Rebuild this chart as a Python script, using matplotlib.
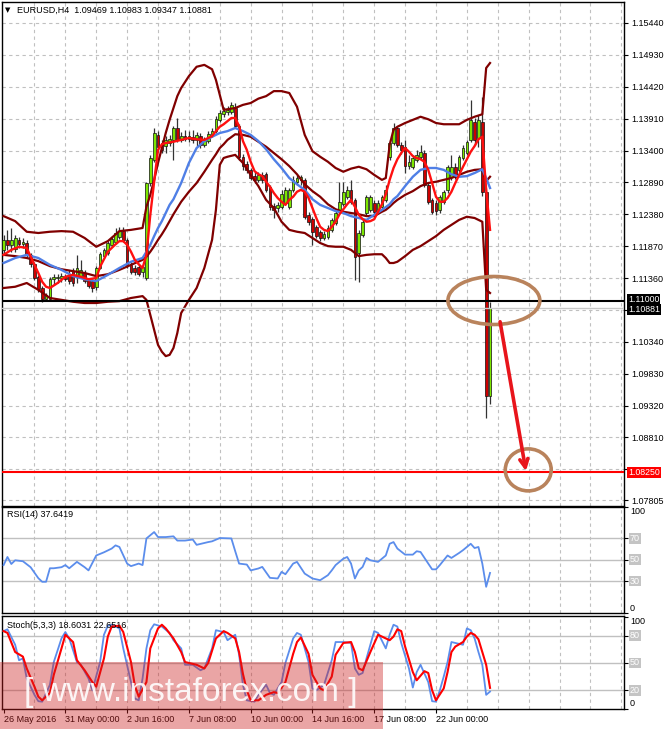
import matplotlib
matplotlib.use("Agg")
import matplotlib.pyplot as plt
import matplotlib.transforms as mtrans
from matplotlib.patches import Ellipse, Rectangle

plt.rcParams['font.family'] = ['Liberation Sans', 'DejaVu Sans']
plt.rcParams['font.size'] = 6.5

# ---------------- data (EURUSD H4) ----------------
bar_open = [1.1181, 1.1197, 1.1189, 1.1182, 1.1197, 1.1190, 1.1192, 1.1173, 1.1158, 1.1138,
            1.1120, 1.1102, 1.1102, 1.1134, 1.1136, 1.1136, 1.1138, 1.1141, 1.1147, 1.1139,
            1.1139, 1.1144, 1.1133, 1.1131, 1.1122, 1.1152, 1.1171, 1.1176, 1.1189, 1.1194,
            1.1202, 1.1211, 1.1197, 1.1157, 1.1152, 1.1154, 1.1146, 1.1136, 1.1288, 1.1325,
            1.1365, 1.1352, 1.1347, 1.1352, 1.1357, 1.1376, 1.1357, 1.1363, 1.1358, 1.1362,
            1.1357, 1.1363, 1.1349, 1.1355, 1.1366, 1.1371, 1.1389, 1.1398, 1.1402, 1.1402,
            1.1408, 1.1379, 1.1330, 1.1318, 1.1309, 1.1299, 1.1293, 1.1301, 1.1302, 1.1282,
            1.1251, 1.1248, 1.1250, 1.1256, 1.1250, 1.1277, 1.1290, 1.1293, 1.1293, 1.1237,
            1.1230, 1.1218, 1.1210, 1.1200, 1.1202, 1.1213, 1.1224, 1.1245, 1.1254, 1.1266,
            1.1277, 1.1261, 1.1176, 1.1205, 1.1240, 1.1245, 1.1256, 1.1245, 1.1250, 1.1261,
            1.1330, 1.1352, 1.1376, 1.1349, 1.1346, 1.1315, 1.1314, 1.1325, 1.1330, 1.1336,
            1.1285, 1.1261, 1.1256, 1.1245, 1.1258, 1.1277, 1.1298, 1.1314, 1.1309, 1.1328,
            1.1336, 1.1357, 1.1386, 1.1360, 1.1386, 1.1274, 1.09469]
bar_high = [1.1205, 1.1213, 1.1216, 1.1205, 1.1202, 1.1200, 1.1197, 1.1176, 1.1162, 1.1141,
            1.1123, 1.1112, 1.1138, 1.1142, 1.1142, 1.1144, 1.1142, 1.1149, 1.1152, 1.1173,
            1.1165, 1.1149, 1.1136, 1.1134, 1.1155, 1.1178, 1.1184, 1.1195, 1.1203, 1.1216,
            1.1218, 1.1218, 1.1200, 1.1162, 1.1157, 1.1157, 1.1157, 1.1290, 1.1333, 1.1376,
            1.1371, 1.1357, 1.1363, 1.1365, 1.1379, 1.1392, 1.1370, 1.1373, 1.1371, 1.1373,
            1.1370, 1.1368, 1.1362, 1.1371, 1.1376, 1.1395, 1.1405, 1.1410, 1.1411, 1.1418,
            1.1416, 1.1382, 1.1334, 1.1323, 1.1312, 1.1306, 1.1306, 1.1306, 1.1306, 1.1285,
            1.1256, 1.1258, 1.1277, 1.1282, 1.1280, 1.1299, 1.1301, 1.1301, 1.1296, 1.1242,
            1.1234, 1.1221, 1.1213, 1.1211, 1.1221, 1.1232, 1.1245, 1.1290, 1.1290, 1.1283,
            1.1293, 1.1264, 1.1213, 1.1229, 1.1269, 1.1269, 1.1261, 1.1261, 1.1269, 1.1285,
            1.1357, 1.1384, 1.1379, 1.1354, 1.1357, 1.1333, 1.1333, 1.1341, 1.1349, 1.1341,
            1.1288, 1.1264, 1.1261, 1.1269, 1.1277, 1.1317, 1.1333, 1.1320, 1.1333, 1.1349,
            1.1357, 1.1421, 1.1392, 1.1397, 1.1426, 1.1280, 1.10983]
bar_low = [1.1173, 1.1181, 1.1178, 1.1178, 1.1184, 1.1184, 1.1168, 1.1154, 1.1133, 1.1114,
           1.1098, 1.1099, 1.1101, 1.1125, 1.1128, 1.1130, 1.1131, 1.1126, 1.1123, 1.1128,
           1.1136, 1.1128, 1.1120, 1.1114, 1.1117, 1.1150, 1.1168, 1.1173, 1.1186, 1.1190,
           1.1198, 1.1194, 1.1152, 1.1142, 1.1141, 1.1139, 1.1138, 1.1133, 1.1283, 1.1322,
           1.1338, 1.1336, 1.1336, 1.1347, 1.1325, 1.1354, 1.1354, 1.1355, 1.1354, 1.1352,
           1.1347, 1.1344, 1.1346, 1.1352, 1.1362, 1.1368, 1.1386, 1.1394, 1.1397, 1.1398,
           1.1376, 1.1325, 1.1309, 1.1304, 1.1293, 1.1288, 1.1290, 1.1288, 1.1274, 1.1245,
           1.1232, 1.1242, 1.1246, 1.1253, 1.1246, 1.1274, 1.1285, 1.1285, 1.1230, 1.1221,
           1.1189, 1.1200, 1.1195, 1.1197, 1.1198, 1.1210, 1.1221, 1.1242, 1.1251, 1.1262,
           1.1254, 1.1133, 1.1130, 1.1202, 1.1237, 1.1242, 1.1237, 1.1242, 1.1246, 1.1258,
           1.1325, 1.1349, 1.1346, 1.1334, 1.1304, 1.1310, 1.1310, 1.1322, 1.1326, 1.1282,
           1.1254, 1.1238, 1.1237, 1.1240, 1.1254, 1.1272, 1.1293, 1.1294, 1.1306, 1.1325,
           1.1333, 1.1354, 1.1349, 1.1346, 1.1267, 1.0912, 1.09347]
bar_close = [1.1197, 1.1189, 1.1197, 1.1200, 1.1190, 1.1194, 1.1173, 1.1158, 1.1136, 1.1118,
             1.1102, 1.1109, 1.1134, 1.1138, 1.1138, 1.1139, 1.1134, 1.1131, 1.1128, 1.1152,
             1.1149, 1.1131, 1.1123, 1.1120, 1.1152, 1.1174, 1.1181, 1.1192, 1.1198, 1.1208,
             1.1211, 1.1197, 1.1155, 1.1146, 1.1146, 1.1142, 1.1154, 1.1288, 1.1328, 1.1368,
             1.1346, 1.1341, 1.1357, 1.1358, 1.1376, 1.1357, 1.1363, 1.1358, 1.1363, 1.1357,
             1.1365, 1.1349, 1.1357, 1.1366, 1.1371, 1.1390, 1.1400, 1.1403, 1.1405, 1.1413,
             1.1379, 1.1330, 1.1315, 1.1309, 1.1296, 1.1293, 1.1301, 1.1293, 1.1277, 1.1250,
             1.1245, 1.1253, 1.1270, 1.1277, 1.1277, 1.1293, 1.1296, 1.1298, 1.1234, 1.1226,
             1.1210, 1.1203, 1.1200, 1.1206, 1.1216, 1.1229, 1.1240, 1.1258, 1.1274, 1.1277,
             1.1258, 1.1170, 1.1208, 1.1226, 1.1266, 1.1266, 1.1242, 1.1256, 1.1266, 1.1277,
             1.1352, 1.1376, 1.1349, 1.1341, 1.1315, 1.1322, 1.1328, 1.1333, 1.1338, 1.1285,
             1.1258, 1.1242, 1.1243, 1.1266, 1.1274, 1.1314, 1.1314, 1.1298, 1.1330, 1.1344,
             1.1354, 1.1389, 1.1357, 1.1389, 1.1274, 1.09469, 1.10881]

# Bollinger bands (sampled)
bb_idx = [0, 3, 6, 9, 12, 15, 18, 21, 24, 27, 30, 33, 36, 37, 38, 39, 40, 41, 42, 43,
          44, 45, 46, 48, 50, 52, 54, 55, 56, 57, 58, 60, 62, 64, 66, 68, 70, 72, 74, 76,
          78, 80, 82, 84, 86, 88, 90, 92, 94, 96, 98, 99, 100, 101, 102, 104, 106, 108, 110, 112,
          114, 116, 118, 120, 122, 124, 125, 126]
bb_upper = [1.1235, 1.1227, 1.1210, 1.1208, 1.1210, 1.1211, 1.1210, 1.1200, 1.1186, 1.1195,
            1.1211, 1.1213, 1.1216, 1.1250, 1.1269, 1.1293, 1.1320, 1.1344, 1.1368, 1.1389,
            1.1408, 1.1427, 1.1440, 1.1459, 1.1474, 1.1477, 1.1470, 1.1453, 1.1429, 1.1405,
            1.1406, 1.1408, 1.1413, 1.1416, 1.1423, 1.1427, 1.1435, 1.1435, 1.1432, 1.1410,
            1.1365, 1.1339, 1.1330, 1.1322, 1.1312, 1.1306, 1.1311, 1.1314, 1.1310, 1.1301,
            1.1293, 1.1296, 1.1349, 1.1373, 1.1378, 1.1384, 1.1389, 1.1394, 1.1390, 1.1384,
            1.1382, 1.1382, 1.1382, 1.1389, 1.1394, 1.1398, 1.1472, 1.1480]
bb_middle = [1.1173, 1.1171, 1.1168, 1.1163, 1.1155, 1.1150, 1.1147, 1.1144, 1.1139, 1.1142,
             1.1149, 1.1157, 1.1165, 1.1170, 1.1178, 1.1187, 1.1197, 1.1206, 1.1216, 1.1227,
             1.1238, 1.1248, 1.1258, 1.1274, 1.1288, 1.1306, 1.1325, 1.1334, 1.1344, 1.1350,
             1.1357, 1.1366, 1.1365, 1.1362, 1.1354, 1.1346, 1.1336, 1.1326, 1.1315, 1.1302,
             1.1286, 1.1275, 1.1266, 1.1254, 1.1246, 1.1242, 1.1240, 1.1238, 1.1235, 1.1235,
             1.1242, 1.1245, 1.1250, 1.1256, 1.1261, 1.1269, 1.1275, 1.1283, 1.1288, 1.1290,
             1.1293, 1.1296, 1.1301, 1.1306, 1.1309, 1.1310, 1.1291, 1.1298]
bb_lower = [1.1120, 1.1122, 1.1128, 1.1117, 1.1104, 1.1101, 1.1098, 1.1096, 1.1096, 1.1098,
            1.1099, 1.1104, 1.1107, 1.1101, 1.1077, 1.1053, 1.1029, 1.1018, 1.1011, 1.1013,
            1.1024, 1.1048, 1.1080, 1.1101, 1.1120, 1.1152, 1.1197, 1.1245, 1.1317, 1.1328,
            1.1330, 1.1333, 1.1320, 1.1301, 1.1283, 1.1261, 1.1248, 1.1226, 1.1213, 1.1210,
            1.1208, 1.1200, 1.1192, 1.1187, 1.1186, 1.1186, 1.1181, 1.1171, 1.1173, 1.1174,
            1.1174, 1.1168, 1.1160, 1.1160, 1.1162, 1.1171, 1.1181, 1.1187, 1.1195, 1.1203,
            1.1213, 1.1221, 1.1229, 1.1234, 1.1232, 1.1226, 1.1117, 1.1112]

# slow moving average (blue)
ma_slow_idx = [0, 3, 6, 9, 12, 15, 18, 21, 24, 27, 30, 33, 35, 36, 37, 38, 39, 40, 41, 42,
               43, 44, 45, 46, 48, 50, 52, 54, 56, 58, 60, 62, 64, 66, 68, 70, 72, 74, 76, 78,
               80, 82, 84, 86, 88, 90, 92, 94, 96, 98, 100, 101, 102, 104, 106, 108, 110, 112, 114, 116,
               118, 120, 122, 124, 125, 126]
ma_slow = [1.1160, 1.1168, 1.1173, 1.1168, 1.1157, 1.1149, 1.1139, 1.1134, 1.1131, 1.1141,
           1.1152, 1.1162, 1.1166, 1.1168, 1.1178, 1.1189, 1.1203, 1.1216, 1.1227, 1.1240,
           1.1253, 1.1262, 1.1275, 1.1288, 1.1320, 1.1344, 1.1355, 1.1362, 1.1368, 1.1371,
           1.1376, 1.1371, 1.1365, 1.1355, 1.1342, 1.1326, 1.1312, 1.1296, 1.1286, 1.1277,
           1.1262, 1.1253, 1.1248, 1.1243, 1.1240, 1.1235, 1.1232, 1.1229, 1.1237, 1.1245,
           1.1254, 1.1262, 1.1267, 1.1283, 1.1298, 1.1309, 1.1312, 1.1312, 1.1309, 1.1302,
           1.1298, 1.1299, 1.1304, 1.1310, 1.1296, 1.1280]

# fast moving average (red)
ma_fast_idx = [0, 2, 4, 6, 8, 9, 10, 11, 12, 14, 16, 18, 20, 22, 24,
               25, 26, 27, 28, 29, 30, 31, 32, 33, 34, 35, 36, 37, 38, 39, 40, 41, 42,
               44, 46, 48, 50, 52,
               54, 55, 56, 57, 58, 59, 60, 61, 62, 63,
               64, 65, 66, 67, 68, 69, 70, 71, 72, 73,
               74, 75, 76, 77, 78, 79, 80, 81, 82, 83,
               84, 85, 86, 87, 88, 89, 90, 91, 92, 93,
               94, 95, 96, 97, 98, 99, 100, 101, 102, 103,
               104, 105, 106, 107, 108, 109, 110, 111, 112, 113,
               114, 115, 116, 117, 118, 119, 120, 121, 122, 123,
               124, 125, 126]
ma_fast = [1.1173, 1.1181, 1.1186, 1.1184, 1.1157, 1.1144, 1.1130, 1.1122, 1.1120, 1.1128,
           1.1138, 1.1141, 1.1138, 1.1134, 1.1136,
           1.1154, 1.1166, 1.1178, 1.1184, 1.1190, 1.1195, 1.1195, 1.1189, 1.1178, 1.1165,
           1.1158, 1.1152, 1.1173, 1.1237, 1.1290, 1.1341, 1.1350, 1.1352,
           1.1354, 1.1357, 1.1360, 1.1358, 1.1357,
           1.1363, 1.1371, 1.1378, 1.1382, 1.1387, 1.1392, 1.1392, 1.1379, 1.1355, 1.1341,
           1.1322, 1.1307, 1.1302, 1.1299, 1.1290, 1.1282, 1.1272, 1.1264, 1.1258, 1.1253,
           1.1261, 1.1266, 1.1274, 1.1277, 1.1274, 1.1264, 1.1248, 1.1232, 1.1218, 1.1213,
           1.1211, 1.1218, 1.1226, 1.1238, 1.1246, 1.1254, 1.1261, 1.1250, 1.1237, 1.1230,
           1.1226, 1.1227, 1.1230, 1.1242, 1.1254, 1.1270, 1.1293, 1.1312, 1.1326, 1.1336,
           1.1344, 1.1338, 1.1331, 1.1328, 1.1326, 1.1322, 1.1309, 1.1288, 1.1266, 1.1258,
           1.1258, 1.1264, 1.1274, 1.1288, 1.1301, 1.1314, 1.1326, 1.1338, 1.1347, 1.1358,
           1.1362, 1.1277, 1.1213]

# RSI(14)
rsi_idx = [0, 1, 2, 3, 5, 7, 9, 10, 11, 12, 13, 15, 16, 17, 19, 21, 22, 24, 26, 28,
           29, 30, 32, 33, 35, 36, 37, 39, 40, 42, 44, 45, 47, 49, 50, 53, 54, 56, 59, 60,
           61, 63, 64, 66, 67, 69, 71, 72, 73, 75, 76, 78, 80, 82, 84, 85, 86, 88, 89, 90,
           91, 92, 93, 94, 95, 97, 99, 100, 101, 102, 104, 106, 107, 108, 110, 111, 112, 113, 115, 116,
           118, 119, 121, 122, 123, 124, 125, 126]
rsi_val = [45, 52.6, 46, 49.5, 48.6, 43, 32.7, 29.3, 29.3, 42, 42, 43, 45, 42, 48, 43, 40, 54, 57, 60.5,
           63.5, 62, 46.4, 44, 46.4, 45, 70, 76, 71.3, 71.3, 72, 68, 68, 69, 64, 66.6, 67.3, 70.4, 70, 58,
           46.4, 45.5, 40, 41.8, 43.3, 33, 32.4, 38.6, 36.4, 46.4, 48, 37, 32.4, 30.8, 35.5, 40, 45, 51, 52.6, 46.4,
           32.4, 40, 43.3, 51.7, 49.5, 48, 54, 65, 66.6, 60.5, 54.8, 54.8, 58, 57.3, 46.4, 41, 41, 45, 54, 51.7,
           56.4, 59, 65, 61, 62, 46.4, 24.6, 37.64]

# Stochastic(5,3,3)
stoch_k_idx = [0, 1, 3, 4, 5, 6, 8, 9, 10, 12, 13, 15, 16, 17, 19, 20, 22, 23, 25, 26,
               27, 28, 30, 31, 33, 34, 35, 36, 37, 38, 39, 41, 43, 44, 46, 47, 49, 51, 52, 54,
               55, 57, 58, 60, 61, 62, 63, 65, 66, 68, 69, 70, 72, 73, 75, 76, 77, 79, 80, 81,
               83, 85, 86, 88, 90, 91, 92, 93, 94, 95, 96, 97, 99, 100, 101, 102, 103, 105, 106, 107,
               108, 110, 111, 112, 113, 114, 115, 116, 117, 119, 120, 121, 122, 123, 124, 125, 126]
stoch_k = [85, 87, 70, 53, 55, 33, 15, 8, 7.5, 26, 51, 77, 84, 77, 51, 48, 33, 20, 51, 81,
           91, 92, 88, 66, 29, 11, 9, 33, 66, 86, 92.5, 90, 83, 75, 66, 48, 48, 42, 44, 66,
           86, 84, 75, 81, 59, 26, 9, 7.5, 15, 26, 17, 15, 29, 50, 77, 83, 81, 51, 22, 20,
           26, 53, 73, 73, 72, 44, 37, 39, 55, 70, 85, 83, 66, 81, 92, 90, 72, 44, 23, 40,
           48, 29, 8, 7.5, 20, 35, 51, 73, 72, 70, 88, 86, 77, 62, 48, 15, 18.6]
stoch_d_idx = [0, 1, 3, 5, 6, 8, 9, 10, 12, 13, 15, 16, 18, 19, 21, 23, 24, 26, 27, 28,
               30, 31, 33, 34, 35, 37, 38, 40, 41, 42, 44, 46, 47, 50, 52, 53, 55, 57, 58, 60,
               61, 62, 63, 64, 66, 68, 70, 71, 73, 75, 76, 77, 79, 80, 82, 83, 85, 86, 88, 90,
               91, 92, 93, 95, 97, 98, 100, 101, 102, 103, 104, 106, 107, 109, 110, 111, 112, 114, 115, 116,
               117, 119, 120, 121, 122, 123, 124, 125, 126]
stoch_d = [85, 83, 62, 57, 44, 24, 13, 9, 17, 37, 66, 81, 73, 53, 42, 29, 24, 55, 79, 90,
           91, 84, 51, 25, 13, 29, 66, 88, 92, 88, 77, 62, 51, 48, 44, 50, 77, 85, 83, 77,
           62, 38, 20, 9, 9, 15, 18, 17, 29, 60, 73, 78, 60, 37, 22, 20, 35, 59, 72, 73,
           62, 44, 42, 62, 81, 79, 75, 79, 87, 85, 68, 40, 31, 41, 39, 20, 9, 22, 40, 62,
           68, 73, 79, 83, 81, 76, 62, 48, 22.65]

time_tick_idx = [0, 16, 32, 48, 64, 80, 96, 112]
time_tick_labels = ['26 May 2016', '31 May 00:00', '2 Jun 16:00', '7 Jun 08:00',
                    '10 Jun 00:00', '14 Jun 16:00', '17 Jun 08:00', '22 Jun 00:00']
price_ticks = [1.15440, 1.14930, 1.14420, 1.13910, 1.13400, 1.12890, 1.12380, 1.11870,
               1.11360, 1.10850, 1.10340, 1.09830, 1.09320, 1.08810, 1.08300, 1.07805]
hidden_price_labels = [1.10850, 1.08300]   # covered by the level boxes in the reference
level_support = 1.11000
level_bid = 1.10881
level_target = 1.08250

# ---------------- layout ----------------
W, H = 665.0, 729.0
fig = plt.figure(figsize=(W / 100, H / 100), dpi=100)
fig.patch.set_facecolor('white')


def px_rect(x0, y0, x1, y1):
    return [x0 / W, 1 - y1 / H, (x1 - x0) / W, (y1 - y0) / H]


ax = fig.add_axes(px_rect(2, 2, 624, 506))
ax_rsi = fig.add_axes(px_rect(2, 506.5, 624, 613))
ax_st = fig.add_axes(px_rect(2, 616, 624, 708.5))

GRID = '#C0C0C0'
for a in (ax, ax_rsi, ax_st):
    a.set_xlim(-0.41, 160.7)
    for gx in range(8, 161, 8):
        a.axvline(gx, color=GRID, lw=0.8, ls=(0, (3, 3)), zorder=0)
    for s in a.spines.values():
        s.set_color('black')
        s.set_linewidth(1.0)
    a.tick_params(axis='x', bottom=False, labelbottom=False)
    a.yaxis.tick_right()
    a.tick_params(axis='y', direction='out', length=3, width=0.8, pad=2,
                  labelsize=6.5, colors='black')

# ---------------- main price panel ----------------
ax.set_ylim(1.07712, 1.15776)
ax.set_yticks(price_ticks)
ax.set_yticklabels(['' if v in hidden_price_labels else f"{v:.5f}" for v in price_ticks])
for v in price_ticks:
    ax.axhline(v, color=GRID, lw=0.8, ls=(0, (3, 3)), zorder=0)

n = len(bar_close)
pos = list(range(n))
ax.vlines(pos, bar_low, bar_high, color='#333333', lw=0.9, zorder=2)
bottoms = [min(o, c) for o, c in zip(bar_open, bar_close)]
heights = [max(abs(c - o), 0.00006) for o, c in zip(bar_open, bar_close)]
colors = ['#7CE600' if c >= o else '#CC0000' for o, c in zip(bar_open, bar_close)]
ax.bar(pos, heights, bottom=bottoms, width=0.7, color=colors,
       edgecolor='#111111', linewidth=0.5, zorder=3)

BB = '#800000'
ax.plot(bb_idx, bb_upper, color=BB, lw=1.6, zorder=4)
ax.plot(bb_idx, bb_middle, color=BB, lw=1.6, zorder=4)
ax.plot(bb_idx, bb_lower, color=BB, lw=1.6, zorder=4)
ax.plot(ma_slow_idx, ma_slow, color='#4F7FE6', lw=1.7, zorder=5)
ax.plot(ma_fast_idx, ma_fast, color='#FF1010', lw=1.7, zorder=6)

ax.axhline(level_bid, color='#C8C8C8', lw=1.0, zorder=6)
ax.axhline(level_support, color='black', lw=1.5, zorder=7)
ax.axhline(level_target, color='#FF0000', lw=1.5, zorder=7)

trans = mtrans.blended_transform_factory(ax.transAxes, ax.transData)
split = (level_support + level_bid) / 2 - 0.00004
box_x = 1.0 + 4 / 622
ax.text(box_x, split + 0.00008, '1.11000', transform=trans, ha='left', va='bottom',
        fontsize=6.3, color='white', clip_on=False, zorder=10,
        bbox=dict(boxstyle='square,pad=0.08', fc='black', ec='none'))
ax.text(box_x, split - 0.00008, '1.10881', transform=trans, ha='left', va='top',
        fontsize=6.3, color='white', clip_on=False, zorder=10,
        bbox=dict(boxstyle='square,pad=0.08', fc='black', ec='none'))
ax.text(box_x, level_target, '1.08250', transform=trans, ha='left', va='center',
        fontsize=6.3, color='white', clip_on=False, zorder=10,
        bbox=dict(boxstyle='square,pad=0.12', fc='#FF0000', ec='none'))

# annotations
ax.add_patch(Ellipse((127.0, 1.1100), 23.8, 0.00768, fill=False,
                     ec='#B9835C', lw=2.6, zorder=9))
ax.add_patch(Ellipse((135.9, 1.0829), 11.9, 0.00672, fill=False,
                     ec='#B9835C', lw=2.6, zorder=9))
ax.annotate('', xy=(135.3, 1.0827), xytext=(128.6, 1.1066),
            arrowprops=dict(arrowstyle='->,head_length=0.9,head_width=0.45',
                            color='#E8141B', lw=2.6, shrinkA=0, shrinkB=0),
            zorder=9)

fig.text(5 / W, 1 - 10 / H, '\u25BC', fontsize=5, va='center', ha='left',
         family='DejaVu Sans')
fig.text(17 / W, 1 - 10 / H, 'EURUSD,H4  1.09469 1.10983 1.09347 1.10881',
         fontsize=6.5, va='center', ha='left')

# ---------------- RSI ----------------
ax_rsi.set_ylim(0, 100)
for lv in (70, 50, 30):
    ax_rsi.axhline(lv, color=GRID, lw=1.0, zorder=1)
ax_rsi.plot(rsi_idx, rsi_val, color='#5B8DEC', lw=1.3, zorder=3)
ax_rsi.set_yticks([100, 70, 50, 30, 0])
ax_rsi.tick_params(axis='y', labelright=False)
tr_rsi = mtrans.blended_transform_factory(ax_rsi.transAxes, ax_rsi.transData)
for v, va in [(100, 'top'), (0, 'bottom')]:
    ax_rsi.text(1.0 + 6 / 622, v, str(v), transform=tr_rsi, ha='left', va=va,
                fontsize=6.5, clip_on=False)
for v in (70, 50, 30):
    ax_rsi.text(1.0 + 6 / 622, v, str(v), transform=tr_rsi, ha='left', va='center',
                fontsize=6.5, color='white', clip_on=False,
                bbox=dict(boxstyle='square,pad=0.1', fc='#C4C4C4', ec='none'))
fig.text(7 / W, 1 - 514.5 / H, 'RSI(14) 37.6419', fontsize=6.5, va='center', ha='left')

# ---------------- Stochastic ----------------
ax_st.set_ylim(0, 101.6)
for lv in (80, 50, 20):
    ax_st.axhline(lv, color=GRID, lw=1.0, zorder=1)
ax_st.plot(stoch_k_idx, stoch_k, color='#5B8DEC', lw=1.3, zorder=3)
ax_st.plot(stoch_d_idx, stoch_d, color='#FF0000', lw=1.5, zorder=4)
ax_st.set_yticks([100, 80, 50, 20, 0])
ax_st.tick_params(axis='y', labelright=False)
tr_st = mtrans.blended_transform_factory(ax_st.transAxes, ax_st.transData)
for v, va in [(100, 'top'), (0, 'bottom')]:
    ax_st.text(1.0 + 6 / 622, v, str(v), transform=tr_st, ha='left', va=va,
               fontsize=6.5, clip_on=False)
for v in (80, 50, 20):
    ax_st.text(1.0 + 6 / 622, v, str(v), transform=tr_st, ha='left', va='center',
               fontsize=6.5, color='white', clip_on=False,
               bbox=dict(boxstyle='square,pad=0.1', fc='#C4C4C4', ec='none'))
fig.text(7 / W, 1 - 625 / H, 'Stoch(5,3,3) 18.6031 22.6516', fontsize=6.5,
         va='center', ha='left')

ax_st.set_xticks(time_tick_idx)
ax_st.set_xticklabels(time_tick_labels, ha='left')
ax_st.tick_params(axis='x', bottom=True, labelbottom=True, length=3, width=0.8,
                  pad=1.5, labelsize=6.5, colors='black')

# ---------------- watermark ----------------
fig.patches.append(Rectangle((0, 0), 383 / W, (729 - 662) / H, transform=fig.transFigure,
                             fc=(0.80, 0.12, 0.12, 0.40), ec='none', zorder=20))
fig.text(191 / W, 1 - 693 / H, '[ www.instaforex.com ]', ha='center', va='center',
         fontsize=24, color='white', alpha=0.9, zorder=21)

fig.savefig('out.png', dpi=100, facecolor='white')
